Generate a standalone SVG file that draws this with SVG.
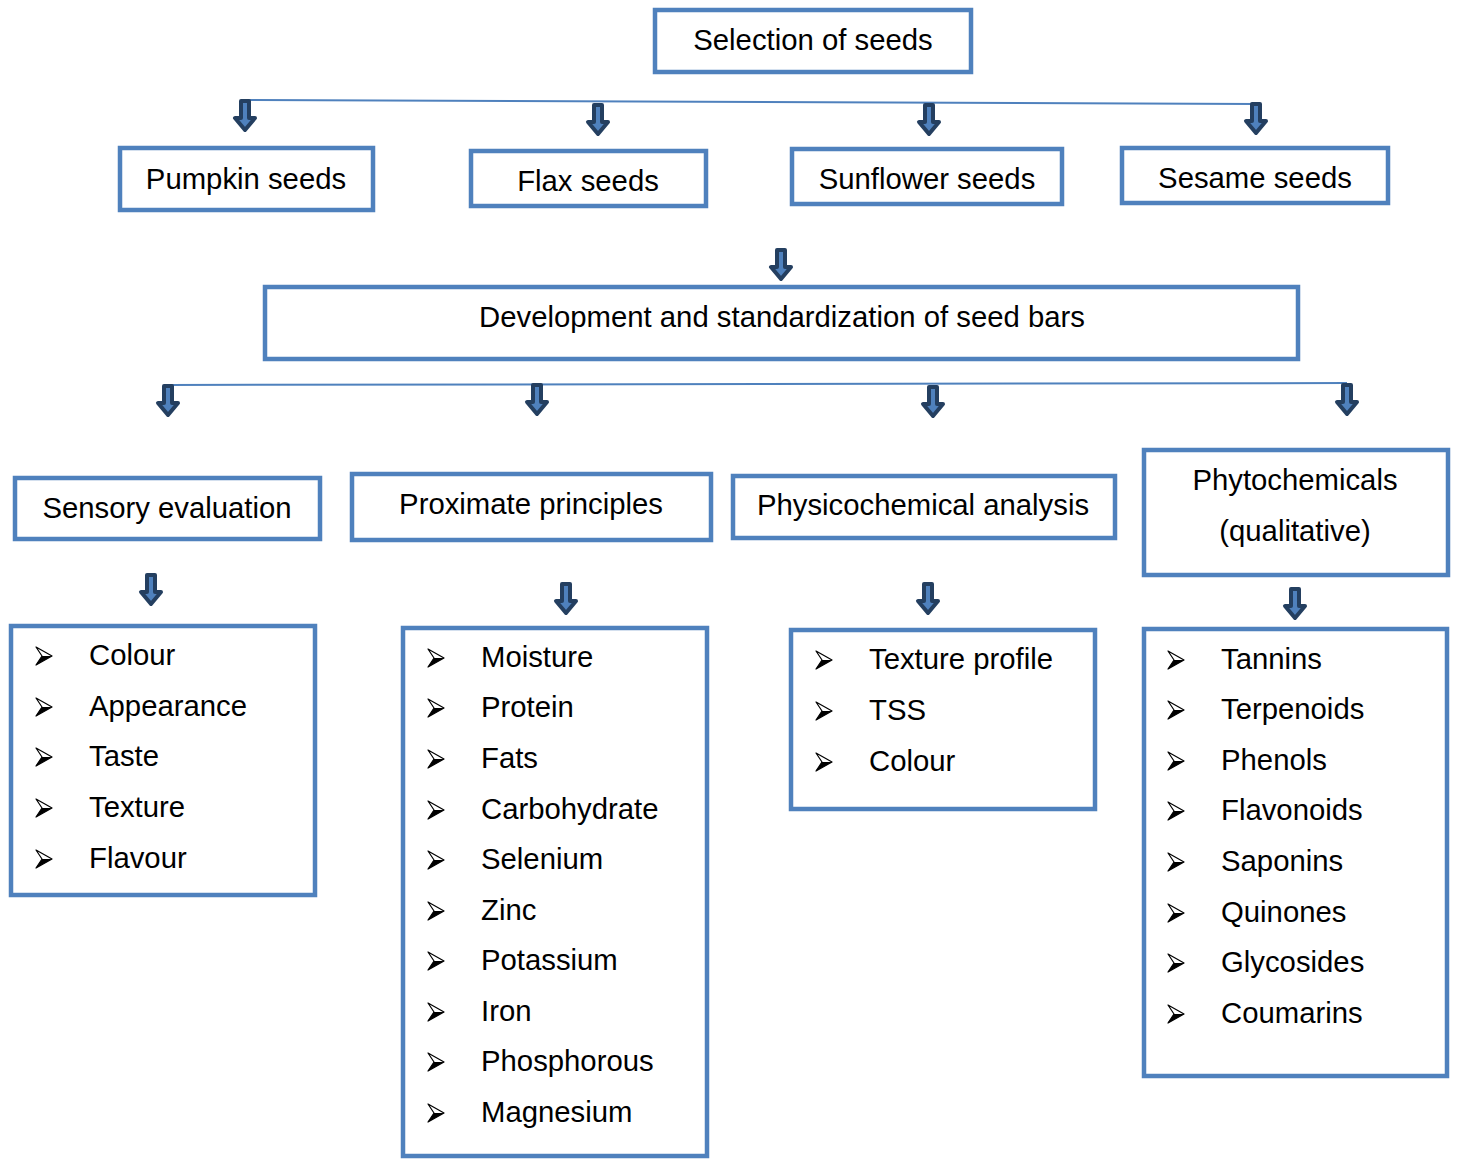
<svg xmlns="http://www.w3.org/2000/svg" xmlns:xlink="http://www.w3.org/1999/xlink" width="1458" height="1159" viewBox="0 0 1458 1159">
<style>
.box{fill:#fff;stroke:#4f81bd;stroke-width:4.5}
.t{font-family:"Liberation Sans",Arial,sans-serif;font-size:29.3px;fill:#000}
.c{text-anchor:middle}
.ln{stroke:#4f81bd;stroke-width:2;fill:none}
.arr{fill:#4f81bd;stroke:#243f60;stroke-width:4;stroke-linejoin:round}
</style>
<defs>
<path id="arrow" class="arr" d="M-4,0 H4 V17 H10 L0,29 L-10,17 H-4 Z"/>
<g id="bul">
<path d="M0,-9 L16,0 L0,9 L6,0 Z" fill="#fff" stroke="#000" stroke-width="1.2" stroke-linejoin="round"/>
<path d="M6,0 L16,0 L0,9 Z" fill="#000"/>
</g>
</defs>
<rect width="1458" height="1159" fill="#fff"/>
<g id="connectors">
<path class="ln" d="M245,100 L1256,104"/>
<path class="ln" d="M168,385 L1347,383"/>
<use href="#arrow" x="245" y="101"/>
<use href="#arrow" x="598" y="105"/>
<use href="#arrow" x="929" y="105"/>
<use href="#arrow" x="1256" y="104"/>
<use href="#arrow" x="781" y="250"/>
<use href="#arrow" x="168" y="386"/>
<use href="#arrow" x="537" y="385"/>
<use href="#arrow" x="933" y="387"/>
<use href="#arrow" x="1347" y="385"/>
<use href="#arrow" x="151" y="575"/>
<use href="#arrow" x="566" y="584"/>
<use href="#arrow" x="928" y="584"/>
<use href="#arrow" x="1295" y="589"/>
</g>
<g id="n-selection"><rect class="box" x="655" y="10" width="316" height="62"/><text class="t c" x="813" y="50">Selection of seeds</text></g>
<g id="n-pumpkin"><rect class="box" x="120" y="148" width="253" height="62"/><text class="t c" x="246" y="189">Pumpkin seeds</text></g>
<g id="n-flax"><rect class="box" x="471" y="151" width="235" height="55"/><text class="t c" x="588" y="191">Flax seeds</text></g>
<g id="n-sunflower"><rect class="box" x="792" y="149" width="270" height="55"/><text class="t c" x="927" y="189">Sunflower seeds</text></g>
<g id="n-sesame"><rect class="box" x="1122" y="148" width="266" height="55"/><text class="t c" x="1255" y="188">Sesame seeds</text></g>
<g id="n-development"><rect class="box" x="265" y="287" width="1033" height="72"/><text class="t c" x="782" y="327">Development and standardization of seed bars</text></g>
<g id="n-sensory"><rect class="box" x="15" y="478" width="305" height="61"/><text class="t c" x="167" y="518">Sensory evaluation</text></g>
<g id="n-proximate"><rect class="box" x="352" y="474" width="359" height="66"/><text class="t c" x="531" y="514">Proximate principles</text></g>
<g id="n-physico"><rect class="box" x="733" y="476" width="382" height="62"/><text class="t c" x="923" y="515">Physicochemical analysis</text></g>
<g id="n-phyto"><rect class="box" x="1144" y="450" width="304" height="125"/><text class="t c" x="1295" y="490">Phytochemicals</text><text class="t c" x="1295" y="541">(qualitative)</text></g>
<g id="n-sensory-list"><rect class="box" x="11" y="626" width="304" height="269"/>
<use href="#bul" x="36" y="656"/><text class="t" x="89" y="665">Colour</text>
<use href="#bul" x="36" y="707"/><text class="t" x="89" y="716">Appearance</text>
<use href="#bul" x="36" y="757"/><text class="t" x="89" y="766">Taste</text>
<use href="#bul" x="36" y="808"/><text class="t" x="89" y="817">Texture</text>
<use href="#bul" x="36" y="859"/><text class="t" x="89" y="868">Flavour</text>
</g>
<g id="n-proximate-list"><rect class="box" x="403" y="628" width="304" height="528"/>
<use href="#bul" x="428" y="658"/><text class="t" x="481" y="667">Moisture</text>
<use href="#bul" x="428" y="708"/><text class="t" x="481" y="717">Protein</text>
<use href="#bul" x="428" y="759"/><text class="t" x="481" y="768">Fats</text>
<use href="#bul" x="428" y="810"/><text class="t" x="481" y="819">Carbohydrate</text>
<use href="#bul" x="428" y="860"/><text class="t" x="481" y="869">Selenium</text>
<use href="#bul" x="428" y="911"/><text class="t" x="481" y="920">Zinc</text>
<use href="#bul" x="428" y="961"/><text class="t" x="481" y="970">Potassium</text>
<use href="#bul" x="428" y="1012"/><text class="t" x="481" y="1021">Iron</text>
<use href="#bul" x="428" y="1062"/><text class="t" x="481" y="1071">Phosphorous</text>
<use href="#bul" x="428" y="1113"/><text class="t" x="481" y="1122">Magnesium</text>
</g>
<g id="n-physico-list"><rect class="box" x="791" y="630" width="304" height="179"/>
<use href="#bul" x="816" y="660"/><text class="t" x="869" y="669">Texture profile</text>
<use href="#bul" x="816" y="711"/><text class="t" x="869" y="720">TSS</text>
<use href="#bul" x="816" y="762"/><text class="t" x="869" y="771">Colour</text>
</g>
<g id="n-phyto-list"><rect class="box" x="1144" y="629" width="303" height="447"/>
<use href="#bul" x="1168" y="660"/><text class="t" x="1221" y="669">Tannins</text>
<use href="#bul" x="1168" y="710"/><text class="t" x="1221" y="719">Terpenoids</text>
<use href="#bul" x="1168" y="761"/><text class="t" x="1221" y="770">Phenols</text>
<use href="#bul" x="1168" y="811"/><text class="t" x="1221" y="820">Flavonoids</text>
<use href="#bul" x="1168" y="862"/><text class="t" x="1221" y="871">Saponins</text>
<use href="#bul" x="1168" y="913"/><text class="t" x="1221" y="922">Quinones</text>
<use href="#bul" x="1168" y="963"/><text class="t" x="1221" y="972">Glycosides</text>
<use href="#bul" x="1168" y="1014"/><text class="t" x="1221" y="1023">Coumarins</text>
</g>
</svg>
